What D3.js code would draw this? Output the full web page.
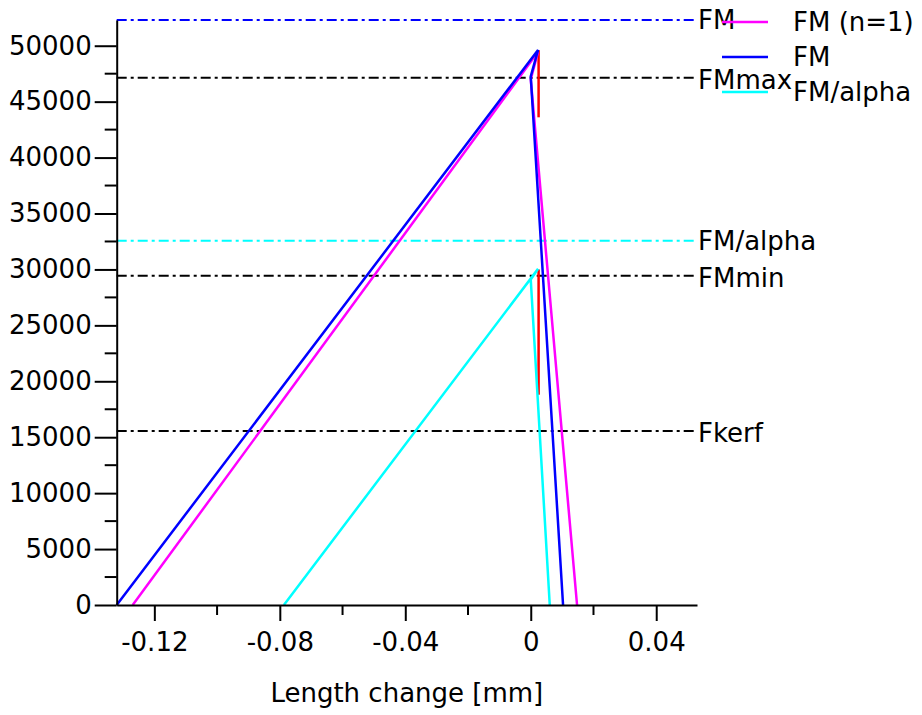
<!DOCTYPE html>
<html><head><meta charset="utf-8">
<script src="https://cdn.jsdelivr.net/npm/d3@7"></script>
<style>body{margin:0;background:#fff}svg{display:block}text{font-family:"DejaVu Sans",sans-serif}</style>
</head><body><svg id="c" width="922" height="715"></svg>
<script>
// ---- data ----
const xTicks = [-0.12, -0.08, -0.04, 0, 0.04];
const xTickLabels = ["-0.12", "-0.08", "-0.04", "0", "0.04"];
const xMinorTicks = [-0.10, -0.06, -0.02, 0.02];
const yTicks = [0,5000,10000,15000,20000,25000,30000,35000,40000,45000,50000];
const yMinorTicks = [2500,7500,12500,17500,22500,27500,32500,37500,42500,47500];
const xLabel = "Length change [mm]";

const refNames  = ["FM", "FMmax", "FM/alpha", "FMmin", "Fkerf"];
const refValues = [52300, 47140, 32560, 29430, 15560];

const seriesNames = ["FM (n=1)", "FM", "FM/alpha"];
const magentaX = [-0.1269, 0.00233, 0.0, 0.01476];
const magentaY = [0, 49450, 47000, 0];
const blueX = [-0.1320, 0.00233, 0.0, 0.0103];
const blueY = [0, 49620, 47250, 0];
const cyanX = [-0.0787, 0.00233, 0.0, 0.00606];
const cyanY = [0, 30050, 29100, 0];
const redSeg1X = [0.0025, 0.0025], redSeg1Y = [49600, 43600];
const redSeg2X = [0.0025, 0.0025], redSeg2Y = [30000, 18800];

// ---- chart ----
const svg = d3.select("#c");
const L = 116.7, R = 697, T = 20, B = 605;
const x = d3.scaleLinear().domain([-0.132, 0.053]).range([L, R]);
const y = d3.scaleLinear().domain([0, 52300]).range([B, T]);
const FS = 26;

const refColors = ["#0000ff", "#000000", "#00ffff", "#000000", "#000000"];
const refLabelDy = [0, 2, 0, 2, 2];
const dash = "10,4,3,4";

// reference lines
refValues.forEach((v, i) => {
  svg.append("line").attr("x1", x.range()[0]).attr("x2", x.range()[1])
    .attr("y1", y(v)).attr("y2", y(v))
    .attr("stroke", refColors[i]).attr("stroke-width", 2).attr("stroke-dasharray", dash);
  svg.append("text").attr("x", R + 1).attr("y", y(v) + refLabelDy[i])
    .attr("dy", "0.35em").attr("font-size", FS).attr("fill", "#000").text(refNames[i]);
});

const line = d3.line().x(d => x(d[0])).y(d => y(d[1]));
const zip = (a, b) => a.map((v, i) => [v, b[i]]);
const drawSeries = (xs, ys, col) => svg.append("path").datum(zip(xs, ys))
  .attr("d", line).attr("fill", "none").attr("stroke", col).attr("stroke-width", 2.5)
  .attr("stroke-linejoin", "miter");

drawSeries(redSeg1X, redSeg1Y, "#ff0000");
drawSeries(redSeg2X, redSeg2Y, "#ff0000");
drawSeries(cyanX, cyanY, "#00ffff");
drawSeries(magentaX, magentaY, "#ff00ff");
drawSeries(blueX, blueY, "#0000ff");

// axes
const xAxis = d3.axisBottom(x).tickValues(xTicks).tickSize(16).tickSizeOuter(0)
  .tickFormat((d, i) => xTickLabels[i]);
const gx = svg.append("g").attr("transform", `translate(0,${B})`).call(xAxis);
gx.selectAll("text").attr("font-size", FS).attr("fill", "#000").attr("dy", "1.05em")
  .attr("font-family", "DejaVu Sans");
gx.selectAll("line").attr("stroke", "#000").attr("stroke-width", 2);
gx.select(".domain").attr("stroke", "#000").attr("stroke-width", 2);
gx.selectAll(".minor").data(xMinorTicks).enter().append("line")
  .attr("x1", d => x(d)).attr("x2", d => x(d)).attr("y1", 0).attr("y2", 10)
  .attr("stroke", "#000").attr("stroke-width", 2);

const yAxis = d3.axisLeft(y).tickValues(yTicks).tickSize(22).tickSizeOuter(0).tickPadding(3)
  .tickFormat(d3.format("d"));
const gy = svg.append("g").attr("transform", `translate(${L},0)`).call(yAxis);
gy.selectAll("text").attr("font-size", FS).attr("fill", "#000").attr("font-family", "DejaVu Sans");
gy.selectAll("line").attr("stroke", "#000").attr("stroke-width", 2);
gy.select(".domain").attr("stroke", "#000").attr("stroke-width", 2);
gy.selectAll(".minor").data(yMinorTicks).enter().append("line")
  .attr("x1", -12).attr("x2", 0).attr("y1", d => y(d)).attr("y2", d => y(d))
  .attr("stroke", "#000").attr("stroke-width", 2);

svg.append("text").attr("x", (x(-0.132) + x(0.053)) / 2 + 0).attr("y", 693)
  .attr("dy", "0.35em").attr("text-anchor", "middle").attr("font-size", FS).text(xLabel);

// legend
const legColors = ["#ff00ff", "#0000ff", "#00ffff"];
const legY = [22, 57, 92];
seriesNames.forEach((n, i) => {
  svg.append("line").attr("x1", 722).attr("x2", 768).attr("y1", legY[i]).attr("y2", legY[i])
    .attr("stroke", legColors[i]).attr("stroke-width", 2.5);
  svg.append("text").attr("x", 793).attr("y", legY[i]).attr("dy", "0.35em")
    .attr("font-size", FS).text(n);
});
</script></body></html>
